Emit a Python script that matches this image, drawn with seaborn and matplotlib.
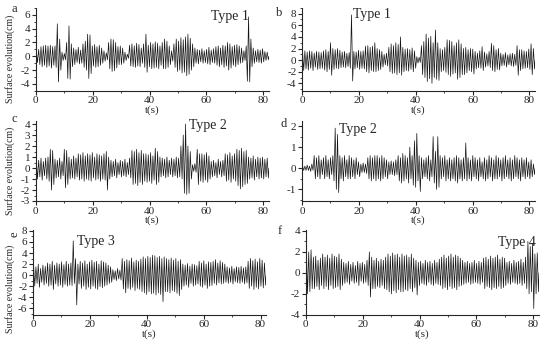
import matplotlib
matplotlib.use("Agg")
import matplotlib.pyplot as plt
from matplotlib.ticker import MultipleLocator
import pandas as pd
import seaborn as sns

DURATION = 82.0

# wave crests / troughs (cm), one value per wave
crest_a = [0.8, 1.0, 1.4, 1.5, 1.6, 1.5, 1.6, 1.4, 1.5, 4.7,
           2.5, 0.6, 0.4, 2.0, 4.4, 1.8, 1.2, 1.0, 1.3, 0.9,
           1.8, 2.2, 3.2, 3.1, 1.5, 1.7, 1.4, 1.6, 1.2, 0.8,
           0.5, 2.0, 2.5, 2.4, 2.0, 1.4, 1.5, 1.2, 0.6, 0.3,
           1.6, 1.8, 1.5, 1.9, 1.7, 1.2, 1.8, 3.2, 1.6, 2.0,
           1.8, 2.1, 1.9, 1.5, 2.0, 2.5, 2.2, 1.5, 0.8, 1.8,
           2.5, 2.2, 2.7, 2.4, 2.8, 3.2, 2.6, 1.8, 1.2, 1.0,
           0.9, 1.1, 0.8, 1.0, 1.3, 0.9, 1.1, 1.4, 1.5, 1.2,
           1.6, 1.5, 2.0, 1.8, 1.4, 1.6, 1.7, 1.5, 1.2, 0.8,
           1.5, 5.7, 2.5, 1.2, 0.8, 1.0, 0.9, 1.1, 0.7, 0.6]
trough_a = [-0.9, -1.2, -1.5, -1.3, -1.6, -1.4, -1.7, -1.3, -1.6, -3.7,
            -2.0, -0.6, -0.5, -3.2, -3.3, -1.5, -1.2, -0.9, -1.1, -1.0,
            -1.6, -2.0, -3.2, -2.5, -1.4, -1.6, -1.5, -1.3, -1.0, -0.7,
            -0.5, -1.8, -2.2, -2.1, -1.7, -1.2, -1.2, -1.0, -0.6, -0.3,
            -1.4, -1.5, -1.6, -1.4, -1.5, -1.0, -1.6, -2.3, -1.5, -1.8,
            -1.7, -1.6, -1.8, -1.3, -1.8, -1.8, -1.6, -1.2, -0.7, -1.6,
            -2.2, -2.0, -2.4, -2.3, -2.8, -2.6, -2.0, -1.5, -1.0, -1.1,
            -0.8, -1.0, -0.9, -1.1, -1.2, -0.9, -1.0, -1.3, -1.5, -1.2,
            -1.6, -1.4, -2.0, -1.7, -1.3, -1.5, -1.2, -1.0, -0.9, -0.6,
            -3.6, -3.7, -1.5, -1.0, -0.8, -0.9, -1.0, -0.8, -0.6, -0.5]

crest_b = [1.5, 1.6, 1.4, 1.6, 1.5, 1.2, 1.5, 1.4, 1.3, 1.6,
           1.8, 1.5, 3.0, 2.0, 1.8, 2.0, 1.7, 1.4, 1.5, 1.2,
           1.3, 7.8, 1.5, 1.4, 1.7, 1.5, 1.6, 2.4, 2.5, 2.2,
           2.4, 3.0, 2.0, 1.8, 1.5, 1.0, 1.2, 2.2, 2.8, 2.5,
           3.0, 2.7, 4.0, 2.2, 1.9, 2.0, 1.8, 2.1, 1.6, 0.6,
           0.5, 2.5, 3.2, 4.5, 3.8, 4.1, 3.0, 5.2, 3.0, 2.0,
           1.8, 2.2, 3.5, 3.4, 3.2, 2.5, 3.0, 3.5, 2.8, 2.0,
           2.2, 1.8, 2.0, 1.9, 1.5, 1.2, 1.6, 2.3, 1.4, 1.1,
           1.5, 2.9, 2.5, 1.8, 2.0, 1.2, 1.0, 1.3, 0.9, 1.1,
           1.2, 1.0, 2.5, 1.8, 1.8, 1.6, 1.5, 1.9, 2.8, 2.0]
trough_b = [-1.8, -1.5, -1.7, -1.4, -1.8, -1.2, -1.6, -1.5, -1.4, -1.7,
            -2.0, -1.6, -2.6, -1.6, -1.4, -1.5, -1.3, -1.2, -1.3, -1.1,
            -1.4, -3.6, -1.5, -1.3, -1.6, -1.4, -1.5, -2.0, -2.2, -1.8,
            -2.0, -2.0, -1.8, -1.6, -1.2, -0.8, -1.0, -2.0, -2.3, -2.2,
            -2.5, -2.2, -2.6, -2.0, -1.8, -1.9, -1.6, -2.0, -1.4, -0.5,
            -0.4, -2.5, -3.0, -3.7, -3.2, -4.0, -3.0, -3.3, -3.5, -2.0,
            -1.8, -2.1, -2.5, -2.8, -2.4, -2.2, -3.3, -3.0, -2.5, -2.5,
            -2.2, -1.8, -2.0, -2.4, -1.5, -1.3, -1.4, -1.8, -1.2, -1.0,
            -1.3, -1.8, -2.0, -1.6, -1.7, -1.0, -0.9, -1.2, -0.8, -1.0,
            -1.1, -0.9, -2.6, -1.8, -1.5, -1.4, -1.3, -1.6, -2.5, -1.5]

crest_c = [0.8, 0.7, 0.9, 0.6, 0.9, 1.0, 1.7, 1.6, 0.8, 0.7,
           0.9, 0.6, 1.7, 1.6, 1.0, 0.8, 1.1, 0.9, 1.3, 1.2,
           1.4, 1.1, 1.3, 1.2, 1.4, 1.0, 1.3, 1.2, 1.1, 1.3,
           1.5, 1.0, 0.7, 0.6, 0.8, 0.5, 0.7, 0.6, 0.8, 0.5,
           0.9, 1.6, 1.5, 1.7, 1.4, 1.6, 1.3, 1.3, 1.2, 1.4,
           1.1, 1.8, 1.5, 1.0, 0.9, 0.8, 1.0, 0.7, 0.9, 0.8,
           1.0, 0.9, 2.0, 3.0, 4.0, 2.0, 1.5, 0.3, 0.4, 1.7,
           1.3, 1.3, 1.2, 1.4, 1.1, 0.6, 0.7, 0.5, 0.8, 0.6,
           0.7, 1.3, 1.2, 1.4, 1.1, 1.3, 1.7, 1.6, 1.8, 1.5,
           1.6, 1.0, 0.9, 1.1, 0.8, 1.0, 0.9, 1.0, 0.8, 0.9]
trough_c = [-1.0, -0.8, -1.1, -0.7, -1.0, -1.2, -2.0, -1.5, -0.9, -0.8,
            -1.0, -0.7, -1.8, -1.5, -1.0, -0.9, -1.0, -0.8, -1.1, -1.0,
            -1.2, -1.0, -1.1, -1.2, -0.9, -1.1, -1.0, -1.2, -1.0, -1.1,
            -2.0, -1.0, -0.8, -0.7, -0.9, -0.6, -0.8, -0.7, -0.8, -0.6,
            -0.9, -1.5, -1.4, -1.6, -1.3, -1.5, -1.2, -1.3, -1.2, -1.4,
            -1.1, -1.5, -1.3, -0.8, -0.7, -0.9, -0.8, -0.6, -0.8, -0.7,
            -0.9, -0.8, -1.0, -2.3, -2.4, -2.3, -1.0, -0.3, -0.4, -1.5,
            -1.2, -1.3, -1.1, -1.3, -1.0, -0.8, -0.7, -0.9, -0.6, -0.8,
            -0.7, -1.2, -1.1, -1.3, -1.0, -1.2, -1.6, -1.9, -1.7, -1.5,
            -1.4, -1.0, -0.9, -1.1, -0.8, -1.0, -0.9, -1.0, -0.8, -0.9]

crest_d = [0.1, 0.1, 0.15, 0.1, 0.2, 0.6, 0.5, 0.6, 0.4, 0.5,
           0.6, 0.4, 0.5, 0.6, 1.9, 1.6, 0.6, 0.5, 0.6, 0.4,
           0.6, 0.5, 0.4, 0.5, 0.3, 0.2, 0.25, 0.2, 0.5, 0.6,
           0.5, 0.6, 0.6, 0.5, 0.6, 0.5, 0.4, 0.3, 0.35, 0.3,
           0.4, 0.6, 0.5, 0.7, 0.6, 0.5, 1.0, 0.6, 1.3, 1.65,
           0.6, 0.5, 0.4, 0.5, 0.6, 0.4, 1.5, 0.8, 1.5, 0.6,
           0.5, 0.6, 0.4, 0.5, 0.4, 0.5, 0.6, 0.5, 0.4, 0.5,
           1.2, 0.5, 0.4, 0.6, 0.5, 0.4, 0.5, 0.3, 0.5, 0.4,
           0.6, 0.5, 0.4, 0.6, 0.5, 0.4, 0.5, 0.6, 0.4, 0.5,
           0.4, 0.6, 0.5, 0.4, 0.5, 0.4, 0.5, 0.3, 0.4, 0.2]
trough_d = [-0.1, -0.1, -0.1, -0.15, -0.1, -0.5, -0.4, -0.5, -0.3, -0.5,
            -0.4, -0.5, -0.3, -0.6, -1.0, -1.15, -0.5, -0.6, -0.4, -0.5,
            -0.5, -0.4, -0.5, -0.3, -0.4, -0.2, -0.2, -0.25, -0.5, -0.6,
            -0.5, -0.6, -0.5, -0.6, -0.5, -0.4, -0.5, -0.3, -0.3, -0.35,
            -0.3, -0.6, -0.7, -0.6, -0.5, -0.7, -0.5, -0.8, -0.9, -0.6,
            -1.1, -0.5, -0.4, -0.5, -0.6, -0.4, -0.7, -1.0, -0.9, -0.5,
            -0.4, -0.6, -0.5, -0.6, -0.5, -0.6, -0.7, -0.5, -0.6, -0.5,
            -0.6, -0.5, -0.6, -0.4, -0.5, -0.6, -0.4, -0.5, -0.6, -0.5,
            -0.4, -0.6, -0.5, -0.5, -0.4, -0.6, -0.5, -0.4, -0.5, -0.6,
            -0.5, -0.4, -0.5, -0.6, -0.4, -0.5, -0.4, -0.5, -0.4, -0.3]

crest_e = [1.8, 1.5, 2.0, 1.2, 1.8, 1.6, 2.2, 2.0, 2.5, 1.8,
           2.2, 2.0, 2.4, 1.9, 2.5, 2.0, 2.2, 6.2, 3.0, 2.0,
           2.5, 2.2, 2.6, 2.0, 2.4, 2.7, 2.3, 2.5, 2.0, 2.6,
           2.4, 2.2, 1.8, 1.5, 1.0, 0.8, 1.2, 0.9, 3.0, 2.5,
           2.8, 2.6, 3.1, 2.4, 2.7, 2.5, 2.9, 3.3, 3.0, 3.4,
           3.2, 3.6, 3.5, 3.2, 3.4, 3.0, 3.3, 3.0, 2.8, 3.1,
           2.7, 3.0, 2.5, 2.8, 2.0, 1.8, 2.1, 1.6, 2.0, 1.9,
           1.7, 2.5, 2.2, 2.6, 2.0, 2.4, 2.3, 2.5, 2.8, 2.2,
           2.6, 2.3, 2.0, 1.5, 1.3, 1.6, 1.2, 1.5, 1.4, 1.6,
           1.3, 1.5, 2.5, 3.0, 2.6, 2.9, 2.4, 3.0, 2.7, 2.2]
trough_e = [-2.0, -1.5, -2.2, -1.3, -1.8, -1.5, -2.0, -1.8, -2.6, -1.6,
            -2.0, -1.8, -2.2, -1.7, -2.0, -1.8, -1.9, -1.5, -5.4, -1.6,
            -2.4, -2.0, -2.6, -2.2, -2.5, -2.0, -2.4, -2.6, -2.1, -2.3,
            -2.0, -1.8, -1.5, -1.3, -0.8, -1.0, -0.7, -0.9, -2.5, -3.2,
            -2.4, -2.6, -2.2, -2.8, -2.4, -2.6, -3.0, -3.2, -3.5, -3.0,
            -3.4, -3.3, -3.6, -3.2, -3.5, -4.8, -3.0, -3.0, -3.2, -2.8,
            -3.0, -3.3, -3.7, -2.6, -2.0, -1.8, -2.2, -1.5, -2.0, -1.8,
            -1.6, -2.0, -2.2, -1.8, -2.4, -2.0, -1.9, -1.5, -1.8, -1.4,
            -1.6, -1.5, -1.3, -1.5, -1.3, -1.6, -1.2, -1.4, -1.5, -1.3,
            -1.6, -1.4, -2.4, -2.0, -2.6, -2.2, -2.5, -2.0, -2.3, -1.8]

crest_f = [2.3, 2.0, 2.2, 1.5, 1.6, 1.2, 1.4, 1.8, 1.5, 1.7,
           1.4, 1.8, 1.6, 1.5, 1.8, 1.3, 1.0, 0.9, 1.1, 0.8,
           1.0, 0.7, 1.1, 0.9, 1.0, 0.8, 1.2, 2.0, 1.5, 1.2,
           1.4, 1.1, 1.3, 1.2, 1.5, 1.8, 1.6, 1.9, 1.7, 1.8,
           1.5, 1.8, 1.6, 1.7, 1.5, 1.8, 1.4, 1.2, 1.0, 1.1,
           0.9, 1.2, 1.0, 1.1, 0.9, 1.2, 1.0, 1.3, 1.5, 1.7,
           1.4, 1.6, 1.8, 1.5, 1.7, 1.6, 1.4, 1.2, 1.0, 1.1,
           0.9, 1.0, 1.2, 0.9, 1.1, 1.0, 1.4, 1.5, 1.3, 1.6,
           1.4, 1.5, 1.7, 1.3, 1.5, 1.4, 1.0, 1.1, 0.9, 1.2,
           1.0, 1.1, 1.3, 1.0, 1.5, 3.0, 2.5, 2.8, 1.8, 1.9]
trough_f = [-2.0, -1.8, -1.5, -1.5, -1.3, -1.6, -1.2, -1.5, -1.3, -1.6,
            -1.2, -1.5, -1.4, -1.3, -1.6, -1.2, -1.0, -0.9, -1.1, -0.8,
            -1.0, -0.9, -1.2, -0.8, -1.0, -0.9, -1.2, -2.3, -1.5, -1.5,
            -1.3, -1.4, -1.2, -1.5, -1.6, -1.8, -2.0, -1.7, -1.9, -1.6,
            -1.8, -1.8, -1.6, -1.7, -1.5, -1.8, -1.4, -2.1, -1.2, -1.0,
            -1.1, -1.2, -0.9, -1.1, -1.2, -1.0, -1.1, -1.2, -1.5, -1.4,
            -1.6, -1.3, -1.5, -1.4, -1.6, -1.3, -1.2, -1.1, -1.0, -0.9,
            -1.1, -1.0, -0.9, -1.0, -1.1, -0.9, -1.5, -1.3, -1.4, -1.6,
            -1.4, -1.5, -1.3, -1.5, -1.4, -1.2, -1.0, -1.1, -0.9, -1.0,
            -1.1, -1.0, -1.2, -1.0, -1.5, -2.0, -1.8, -3.4, -2.0, -1.8]


def wave_frame(crests, troughs):
    # crest at 1/4 and trough at 3/4 of each wave
    n = len(crests)
    period = DURATION / n
    t, eta = [0.0], [0.0]
    for k in range(n):
        t += [(k + 0.25) * period, (k + 0.75) * period]
        eta += [crests[k], troughs[k]]
    t.append(DURATION)
    eta.append(0.0)
    return pd.DataFrame({"t": t, "eta": eta})


sns.set_style("ticks")
plt.rcParams["font.family"] = ["Liberation Serif", "DejaVu Serif"]
plt.rcParams["axes.unicode_minus"] = False
plt.rcParams["xtick.labelsize"] = 8
plt.rcParams["ytick.labelsize"] = 8
plt.rcParams["xtick.major.size"] = 3
plt.rcParams["ytick.major.size"] = 3
plt.rcParams["xtick.minor.size"] = 1.5
plt.rcParams["ytick.minor.size"] = 1.5

fig = plt.figure(figsize=(5.5, 3.43), dpi=100)

# letter, crests, troughs, label, label pos, ylim, major, minor, axes rect,
# letter position (figure fraction), ylabel centre (axes fraction)
panels = [
    ("a", crest_a, trough_a, "Type 1", (61.5, 5.7), (-5, 7), 2, 1,
     [0.065, 0.735, 0.424, 0.242], (0.026, 0.975), 0.38),
    ("b", crest_b, trough_b, "Type 1", (18.0, 7.8), (-5.3, 9), 2, 1,
     [0.549, 0.735, 0.424, 0.242], (0.508, 0.962), None),
    ("c", crest_c, trough_c, "Type 2", (54.0, 3.9), (-3, 4.3), 1, 0.5,
     [0.065, 0.414, 0.424, 0.234], (0.026, 0.652), 0.38),
    ("d", crest_d, trough_d, "Type 2", (12.9, 1.85), (-1.55, 2.25), 1, 0.5,
     [0.549, 0.414, 0.424, 0.234], (0.516, 0.638), None),
    ("e", crest_e, trough_e, "Type 3", (15.5, 6.0), (-7.2, 8.2), 2, 1,
     [0.060, 0.082, 0.424, 0.248], (0.027, 0.318), 0.30),
    ("f", crest_f, trough_f, "Type 4", (67.5, 2.9), (-4, 4.1), 2, 1,
     [0.556, 0.082, 0.424, 0.248], (0.508, 0.327), None),
]

for letter, crests, troughs, label, (lx, ly), ylim, major, minor, rect, lpos, ylab_y in panels:
    ax = fig.add_axes(rect)
    df = wave_frame(crests, troughs)
    sns.lineplot(data=df, x="t", y="eta", ax=ax, color="#151515",
                 linewidth=0.5, estimator=None, sort=False)
    ax.set_xlim(0, DURATION)
    ax.set_ylim(*ylim)
    ax.xaxis.set_major_locator(MultipleLocator(20))
    ax.xaxis.set_minor_locator(MultipleLocator(10))
    ax.yaxis.set_major_locator(MultipleLocator(major))
    ax.yaxis.set_minor_locator(MultipleLocator(minor))
    ax.tick_params(pad=1)
    sns.despine(ax=ax)
    ax.set_xlabel("t(s)", fontsize=8, labelpad=0)
    if ylab_y is not None:
        ax.set_ylabel("Surface evolution(cm)", fontsize=7)
        ax.yaxis.set_label_coords(-0.09 if letter != "e" else -0.077, ylab_y)
    else:
        ax.set_ylabel("")
    ax.text(lx, ly, label, fontsize=10, ha="left", va="center")
    fig.text(lpos[0], lpos[1], letter, fontsize=9, ha="center", va="center",
             rotation=90 if letter == "e" else 0)

fig.savefig("out.png", dpi=100)
